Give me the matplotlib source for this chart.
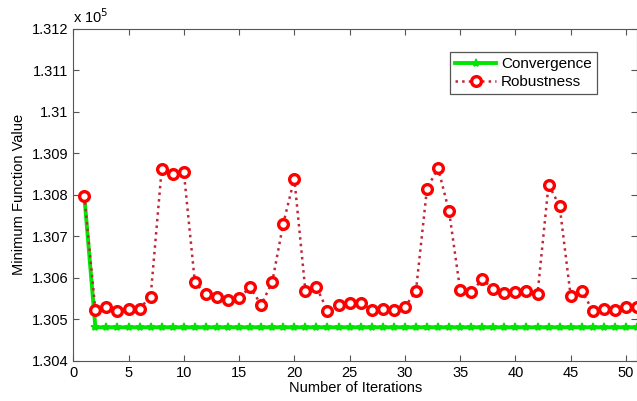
import matplotlib
matplotlib.use("Agg")
import matplotlib.pyplot as plt

plt.rcParams["font.family"] = ["Liberation Sans", "DejaVu Sans"]

# iterations 1..51
iterations = list(range(1, 52))

# values in units of 1e5
robustness = [
    1.30798, 1.30523, 1.30529, 1.30520, 1.30524, 1.30526, 1.30555, 1.30862,
    1.30851, 1.30856, 1.30590, 1.30560, 1.30555, 1.30547, 1.30551, 1.30578,
    1.30535, 1.30590, 1.30731, 1.30839, 1.30569, 1.30578, 1.30521, 1.30535,
    1.30539, 1.30540, 1.30523, 1.30524, 1.30523, 1.30530, 1.30568, 1.30815,
    1.30865, 1.30760, 1.30571, 1.30565, 1.30597, 1.30573, 1.30564, 1.30565,
    1.30569, 1.30561, 1.30825, 1.30773, 1.30556, 1.30569, 1.30521, 1.30526,
    1.30523, 1.30529, 1.30529,
]
convergence = [1.30798] + [1.30481] * 50

fig = plt.figure(figsize=(6.37, 4.01), dpi=100)
ax = fig.add_axes([0.115, 0.1, 0.885, 0.828])

ax.plot(iterations, convergence, "-*", color="#00e600", lw=2.8, ms=6,
        mew=1.2, label="Convergence", zorder=2)
ax.plot(iterations, robustness, ":", color="#c0283a", lw=1.8, marker="o",
        ms=7, mfc="white", mec="red", mew=2.4, label="Robustness", zorder=3)

ax.set_xlim(0, 51)
ax.set_ylim(1.304, 1.312)
ax.set_xticks(range(0, 51, 5))
ax.set_yticks([1.304, 1.305, 1.306, 1.307, 1.308, 1.309, 1.31, 1.311, 1.312])
ax.set_yticklabels(["1.304", "1.305", "1.306", "1.307", "1.308", "1.309",
                    "1.31", "1.311", "1.312"])
ax.tick_params(direction="in", top=True, right=True, labelsize=10.5,
               length=4, color="#555555")
for s in ax.spines.values():
    s.set_color("#555555")

ax.text(0.0, 1.01, "x 10$^5$", transform=ax.transAxes, fontsize=10.5,
        ha="left", va="bottom")
ax.set_xlabel("Number of Iterations", fontsize=10.5, labelpad=1)
ax.set_ylabel("Minimum Function Value", fontsize=10.5, labelpad=4)

leg = ax.legend(loc="upper right", bbox_to_anchor=(0.929, 0.931),
                borderaxespad=0, fontsize=11, fancybox=False, framealpha=1,
                handlelength=2.7, borderpad=0.35, labelspacing=0.25,
                handletextpad=0.3)
leg.get_frame().set_edgecolor("#555555")
leg.get_frame().set_linewidth(0.9)

fig.savefig("out.png", dpi=100)
